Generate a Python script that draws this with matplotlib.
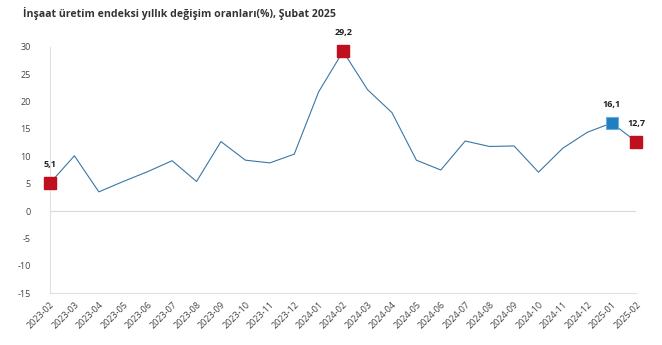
import matplotlib
matplotlib.use("Agg")
import matplotlib.pyplot as plt

plt.rcParams["font.family"] = ["Open Sans", "DejaVu Sans"]
plt.rcParams["axes.unicode_minus"] = False

# monthly yearly change (%) of construction production index
months = ["2023-02", "2023-03", "2023-04", "2023-05", "2023-06", "2023-07",
          "2023-08", "2023-09", "2023-10", "2023-11", "2023-12", "2024-01",
          "2024-02", "2024-03", "2024-04", "2024-05", "2024-06", "2024-07",
          "2024-08", "2024-09", "2024-10", "2024-11", "2024-12", "2025-01",
          "2025-02"]
values = [5.1, 10.1, 3.5, 5.4, 7.2, 9.2, 5.4, 12.7, 9.3, 8.8, 10.4, 21.8,
          29.2, 22.2, 18.0, 9.3, 7.5, 12.8, 11.8, 11.9, 7.1, 11.5, 14.4,
          16.1, 12.7]

# highlighted points
red_idx = [0, 12, 24]
blue_idx = [23]

fig = plt.figure(figsize=(6.62, 3.45), dpi=100)
ax = fig.add_axes([0.0755, 0.1507, 0.8855, 0.7131])

x = list(range(len(months)))
ax.plot(x, values, color="#3a77a6", lw=0.8, zorder=2)

for i in red_idx:
    ax.plot(x[i], values[i], marker="s", ms=8, color="#c00f1e", zorder=3,
            clip_on=False)
for i in blue_idx:
    ax.plot(x[i], values[i], marker="s", ms=8, color="#1f7fc0",
            markeredgecolor="#6aaede", markeredgewidth=0.8, zorder=3,
            clip_on=False)

for i in red_idx + blue_idx:
    lbl = f"{values[i]:.1f}".replace(".", ",")
    ax.annotate(lbl, (x[i], values[i]), xytext=(0, 10), textcoords="offset points",
                ha="center", va="bottom", fontsize=6.5, fontweight="bold",
                color="#222222", annotation_clip=False)

ax.set_xlim(0, len(months) - 1)
ax.set_ylim(-15, 30)
ax.set_yticks(range(-15, 31, 5))
ax.set_xticks(x)
ax.set_xticklabels(months, rotation=45, ha="right", rotation_mode="anchor")
ax.tick_params(axis="both", length=0, labelsize=6.5, colors="#444444")
ax.tick_params(axis="x", pad=5)
ax.tick_params(axis="y", pad=14)

ax.axhline(0, color="#d9d9d9", lw=0.8, zorder=1)
for s in ["top", "right"]:
    ax.spines[s].set_visible(False)
for s in ["left", "bottom"]:
    ax.spines[s].set_color("#e0e0e0")
    ax.spines[s].set_linewidth(0.8)

fig.text(0.034, 0.962, "İnşaat üretim endeksi yıllık değişim oranları(%), Şubat 2025",
         fontsize=7.6, fontweight="bold", color="#333333", va="center")

fig.savefig("out.png", dpi=100)
